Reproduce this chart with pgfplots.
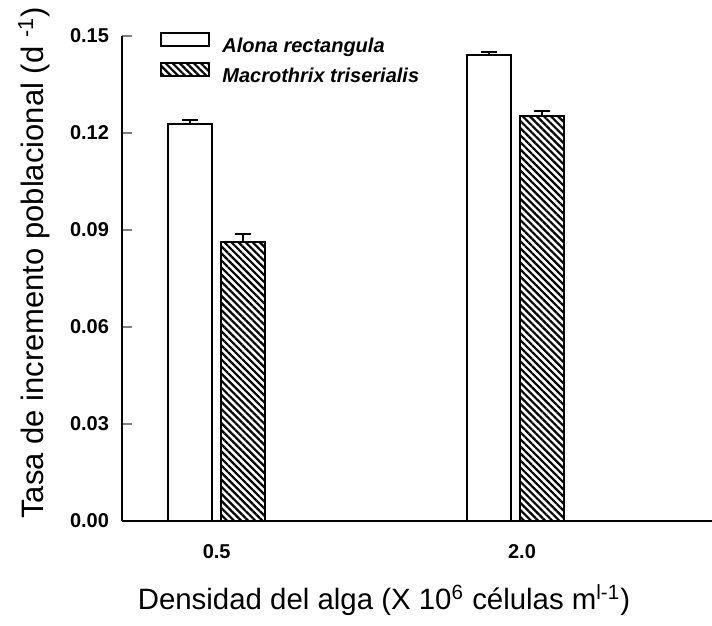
\documentclass[border=0pt]{standalone}
\usepackage{fontspec}
\setmainfont{Liberation Sans}
\usepackage{pgfplots}
\pgfplotsset{compat=1.18}
\usetikzlibrary{patterns.meta}

\begin{document}
\begin{tikzpicture}
\begin{axis}[
  at={(0,0)}, anchor=south west,
  scale only axis, width=295pt, height=242.5pt,
  xmin=0.683, xmax=2.658, ymin=0, ymax=0.15,
  axis lines*=left,
  axis line style={line width=1.1pt},
  ytick={0,0.03,0.06,0.09,0.12,0.15},
  /pgf/number format/fixed,
  /pgf/number format/fixed zerofill,
  /pgf/number format/precision=2,
  /pgf/number format/assume math mode=true,
  yticklabel style={font=\fontsize{10}{11}\selectfont\bfseries, xshift=-3pt},
  ytick style={line width=1pt},
  tick align=inside,
  major tick length=5pt,
  xtick={1,2.022},
  xticklabels={0.5,2.0},
  xtick style={draw=none},
  xticklabel style={font=\fontsize{10}{11}\selectfont\bfseries, yshift=-8pt},
  ylabel={Tasa de incremento poblacional (d \textsuperscript{-1})},
  ylabel style={at={(axis description cs:-0.149,0.532)}, anchor=center, font=\fontsize{15.5}{17}\selectfont},
  xlabel={Densidad del alga (X 10\textsuperscript{6} células m\textsuperscript{l-1})},
  xlabel style={at={(axis description cs:0.444,-0.163)}, anchor=center, font=\fontsize{14.7}{16}\selectfont},
  legend style={at={(axis description cs:0,1)}, anchor=north west, xshift=19pt, yshift=2.2pt,
    draw=none, fill=none, inner sep=0pt, nodes={inner sep=0pt},
    row sep=3.0pt, column sep=6pt,
    font=\fontsize{10}{12}\selectfont\bfseries\itshape},
  legend cell align=left,
  clip=false,
]
\addplot[ybar, bar width=0.147, bar shift=0pt, draw=black, fill=white, line width=1pt,
  legend image code/.code={\draw[draw=black, fill=white, line width=1pt] (0pt,0.5pt) rectangle (24pt,7pt);},
  error bars/.cd, y dir=plus, y explicit,
  error bar style={line width=1pt, black},
  error mark options={rotate=90, mark size=4pt, line width=1pt, black}]
  coordinates {(0.9105,0.1228) +- (0,0.0012) (1.911,0.1442) +- (0,0.0009)};
\addlegendentry{Alona rectangula}
\addplot[ybar, bar width=0.147, bar shift=0pt, draw=black, line width=1pt,
  pattern={Lines[angle=-45,distance=2.5pt,line width=1.1pt]},
  legend image code/.code={\draw[draw=black, line width=1pt, pattern={Lines[angle=-45,distance=2.5pt,line width=1.1pt]}] (0pt,0.5pt) rectangle (24pt,7pt);},
  error bars/.cd, y dir=plus, y explicit,
  error bar style={line width=1pt, black},
  error mark options={rotate=90, mark size=4pt, line width=1pt, black}]
  coordinates {(1.0895,0.0864) +- (0,0.0025) (2.0887,0.1253) +- (0,0.0015)};
\addlegendentry{Macrothrix triserialis}
\end{axis}
\pgfresetboundingbox
\path[use as bounding box] (-61pt,-52.5pt) rectangle (295pt,260.5pt);
\end{tikzpicture}
\end{document}
